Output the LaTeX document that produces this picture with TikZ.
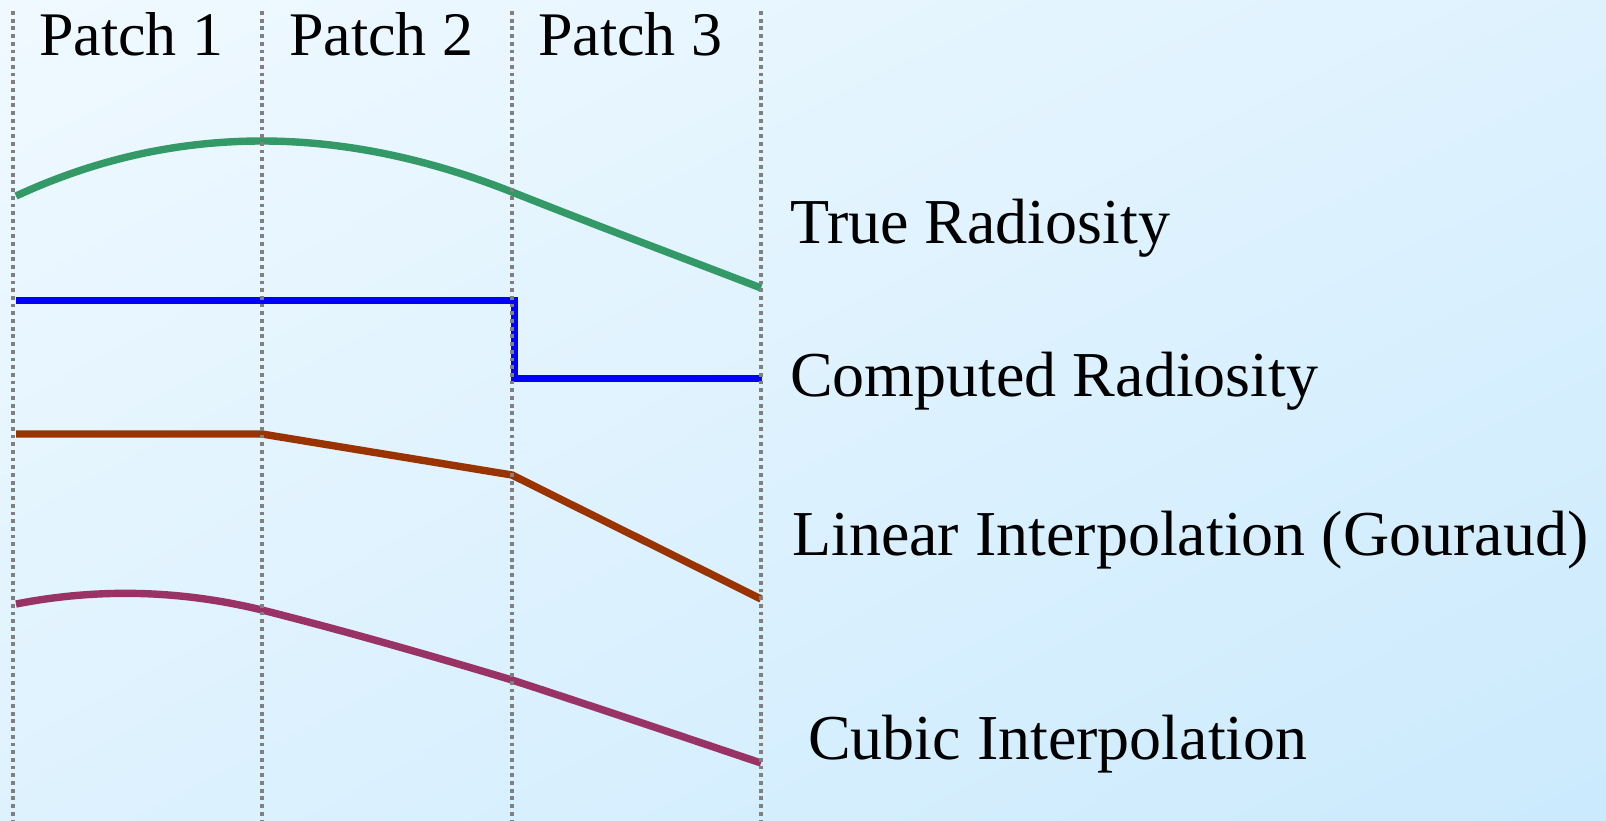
\documentclass[tikz,border=0pt]{standalone}
\usepackage{fontspec}
\setmainfont{Liberation Serif}
\usetikzlibrary{shadings}
\definecolor{bgA}{RGB}{240,249,255}
\definecolor{bgB}{RGB}{203,234,253}
\definecolor{bgM}{RGB}{222,242,254}
\definecolor{trueC}{RGB}{51,153,102}
\definecolor{compC}{RGB}{0,0,255}
\definecolor{linC}{RGB}{153,51,0}
\definecolor{cubC}{RGB}{153,51,102}
\definecolor{dotC}{RGB}{128,128,128}
\begin{document}
\begin{tikzpicture}[x=1pt,y=-1pt,
  dotline/.style={draw=dotC,line width=3.8pt,dash pattern=on 3.8pt off 3.9pt},
  curve/.style={line width=7.4pt},
  lbl/.style={anchor=base west,inner sep=0pt,font=\fontsize{64}{70}\selectfont}]
\useasboundingbox (0,0) rectangle (1606,820);
\shade[upper left=bgA, lower right=bgB, upper right=bgM, lower left=bgM] (0,0) rectangle (1606,820);
% curves
\draw[curve,trueC] (16,196) .. controls (98,158) and (180,141) .. (262,141)
   .. controls (345,141) and (429,159) .. (512,192)
   .. controls (595,225) and (678,256) .. (761,288);
\draw[line width=7pt,compC] (16,300) -- (514,300) -- (514,378) -- (762,378);
\draw[curve,linC] (16,434) -- (262,434) -- (512,475) -- (761,599);
\draw[curve,cubC] (16,604) .. controls (98,588) and (180,590) .. (262,610)
   .. controls (345,631) and (429,655) .. (512,680)
   .. controls (595,707) and (678,735) .. (761,763);
% patch borders
\foreach \x/\n in {13/a,262/b,512/c,761/d}{
  \coordinate (top\n) at (\x,11);
  \coordinate (bot\n) at (\x,820);
  \draw[dotline] (top\n) -- (bot\n);
}
% labels
\node[lbl,font=\fontsize{62}{70}\selectfont] (p1) at (39,55) {Patch 1};
\node[lbl,font=\fontsize{62}{70}\selectfont] (p2) at (289,55) {Patch 2};
\node[lbl,font=\fontsize{62}{70}\selectfont] (p3) at (538,55) {Patch 3};
\node[lbl] (tr) at (790,243) {True Radiosity};
\node[lbl] (cr) at (790,396) {Computed Radiosity};
\node[lbl] (li) at (792,555) {Linear Interpolation (Gouraud)};
\node[lbl] (ci) at (808,759) {Cubic Interpolation};
\end{tikzpicture}
\end{document}
